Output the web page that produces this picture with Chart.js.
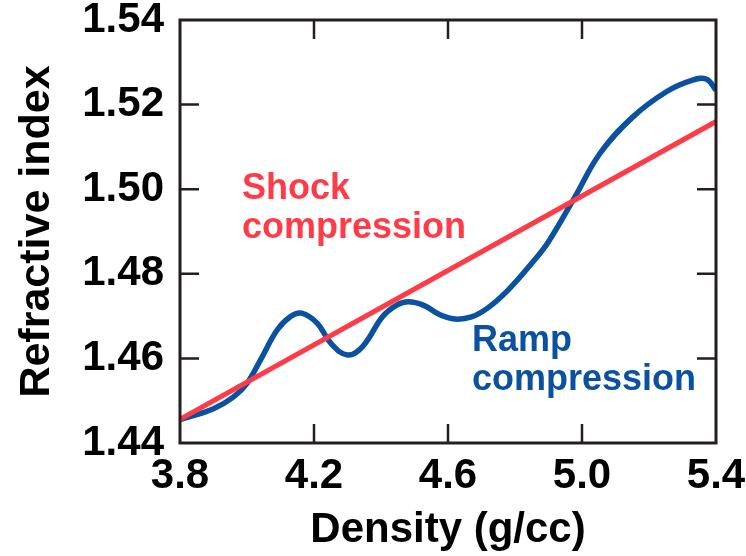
<!DOCTYPE html>
<html>
<head>
<meta charset="utf-8">
<script src="https://cdn.jsdelivr.net/npm/chart.js@4"></script>
<style>
  body { margin: 0; background: #fff; }
  #wrap { width: 746px; height: 556px; }
</style>
</head>
<body>
<div id="wrap"><canvas id="rindexChart" width="746" height="556"></canvas></div>
<script>
// density (g/cc) vs refractive index
const xTicks = [3.8, 4.2, 4.6, 5.0, 5.4];
const yTicks = [1.44, 1.46, 1.48, 1.50, 1.52, 1.54];

const shockDensity = [3.8, 5.4];
const shockIndex = [1.4456, 1.5160];

const rampDensity = [3.80, 3.90, 3.96, 4.00, 4.04, 4.09, 4.13, 4.163, 4.21, 4.25, 4.30, 4.345,
  4.405, 4.447, 4.481, 4.526, 4.576, 4.62, 4.67, 4.72, 4.78, 4.85, 4.90, 4.979,
  5.054, 5.152, 5.253, 5.33, 5.372, 5.40];
const rampIndex = [1.4455, 1.4481, 1.4509, 1.4541, 1.4596, 1.4667, 1.4699, 1.4707, 1.4683, 1.4636, 1.4608, 1.4628,
  1.4699, 1.4726, 1.4734, 1.4726, 1.4703, 1.4693, 1.4698, 1.4720, 1.4762, 1.4825, 1.4876, 1.4982,
  1.5085, 1.5171, 1.5231, 1.5258, 1.5260, 1.5234];

const RED = '#ff3b47';
const BLUE = '#0a519f';
const INK = '#231f20';
const FONT = '"Liberation Sans", Arial, Helvetica, sans-serif';

const toPoints = (xs, ys) => xs.map((x, i) => ({ x: x, y: ys[i] }));

// frame, inward ticks on all four sides, and the two curve labels
const framePlugin = {
  id: 'frame',
  afterDatasetsDraw(chart) {
    const { ctx, chartArea: a, scales } = chart;
    const len = 19;
    ctx.save();
    ctx.strokeStyle = INK;
    ctx.lineWidth = 2.5;
    ctx.beginPath();
    xTicks.slice(1, -1).forEach(v => {
      const px = scales.x.getPixelForValue(v);
      ctx.moveTo(px, a.bottom); ctx.lineTo(px, a.bottom - len);
      ctx.moveTo(px, a.top); ctx.lineTo(px, a.top + len);
    });
    yTicks.slice(1, -1).forEach(v => {
      const py = scales.y.getPixelForValue(v);
      ctx.moveTo(a.left, py); ctx.lineTo(a.left + len, py);
      ctx.moveTo(a.right, py); ctx.lineTo(a.right - len, py);
    });
    ctx.stroke();
    ctx.lineWidth = 3;
    ctx.strokeRect(a.left, a.top, a.right - a.left, a.bottom - a.top);

    ctx.font = 'bold 36px ' + FONT;
    ctx.textAlign = 'left';
    ctx.textBaseline = 'alphabetic';
    ctx.fillStyle = RED;
    ctx.fillText('Shock', 242, 199);
    ctx.fillText('compression', 242, 238);
    ctx.fillStyle = BLUE;
    ctx.fillText('Ramp', 472, 351);
    ctx.fillText('compression', 472, 390);
    ctx.restore();
  }
};

const ctx = document.getElementById('rindexChart').getContext('2d');
const rindexChart = new Chart(ctx, {
  type: 'line',
  data: {
    datasets: [
      {
        label: 'Shock compression',
        data: toPoints(shockDensity, shockIndex),
        borderColor: RED,
        borderWidth: 5,
        pointRadius: 0,
        tension: 0,
        order: 0
      },
      {
        label: 'Ramp compression',
        data: toPoints(rampDensity, rampIndex),
        borderColor: BLUE,
        borderWidth: 5.5,
        pointRadius: 0,
        tension: 0.4,
        order: 1
      }
    ]
  },
  options: {
    responsive: false,
    animation: false,
    layout: { padding: { top: 20, right: 30, left: 0, bottom: 0 } },
    plugins: { legend: { display: false }, tooltip: { enabled: false } },
    scales: {
      x: {
        type: 'linear',
        min: 3.8,
        max: 5.4,
        grid: { display: false, drawTicks: false },
        border: { display: false },
        afterBuildTicks: s => { s.ticks = xTicks.map(v => ({ value: v })); },
        afterFit: s => { s.height = 113; s.paddingLeft = 0; s.paddingRight = 0; },
        ticks: {
          padding: 8,
          maxRotation: 0,
          color: '#000',
          font: { family: FONT, size: 42, weight: 'bold' },
          callback: v => v.toFixed(1)
        },
        title: {
          display: true,
          text: 'Density (g/cc)',
          color: '#000',
          padding: { top: 0, bottom: 0 },
          font: { family: FONT, size: 42, weight: 'bold' }
        }
      },
      y: {
        min: 1.44,
        max: 1.54,
        grid: { display: false, drawTicks: false },
        border: { display: false },
        afterBuildTicks: s => { s.ticks = yTicks.map(v => ({ value: v })); },
        afterFit: s => { s.width = 180; s.paddingTop = 0; s.paddingBottom = 0; },
        ticks: {
          padding: 16,
          color: '#000',
          font: { family: FONT, size: 42, weight: 'bold' },
          callback: v => v.toFixed(2)
        },
        title: {
          display: true,
          text: 'Refractive index',
          color: '#000',
          padding: { top: 11, bottom: 0 },
          font: { family: FONT, size: 43, weight: 'bold' }
        }
      }
    }
  },
  plugins: [framePlugin]
});
</script>
</body>
</html>
